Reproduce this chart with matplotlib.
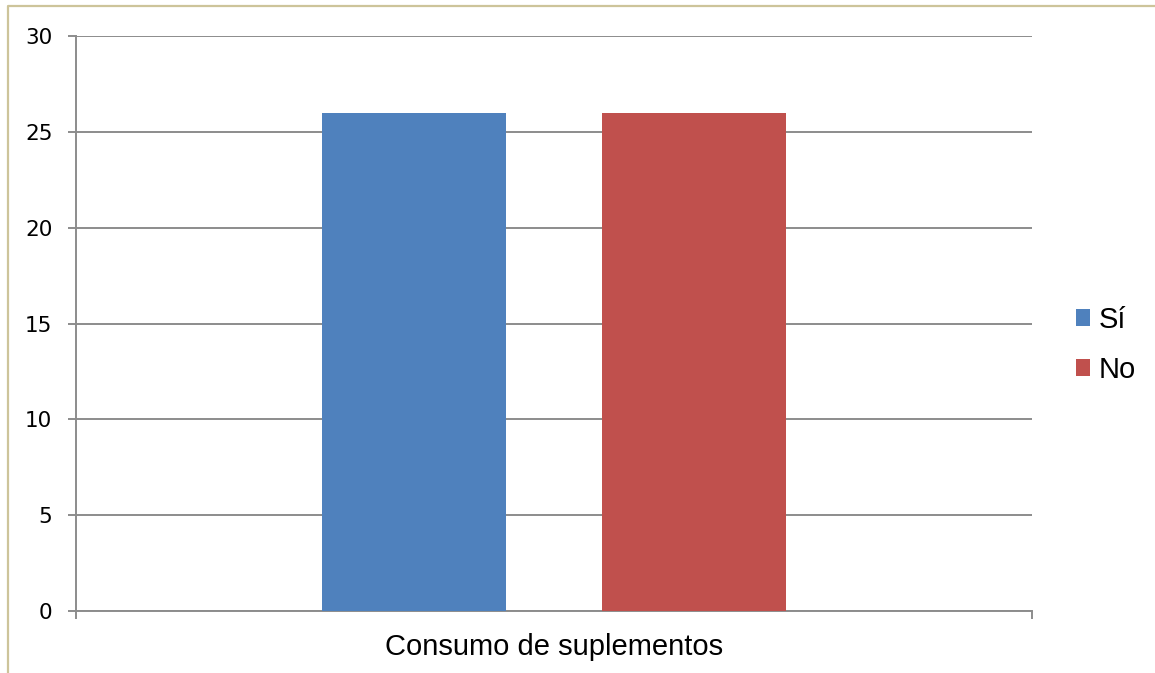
import matplotlib
matplotlib.use('Agg')
import matplotlib.pyplot as plt
from matplotlib.lines import Line2D
import numpy as np

categories = ["Consumo de suplementos"]
series = ["Sí", "No"]
values = [[26], [26]]
colors = ["#4f81bd", "#c0504d"]
yticks = [0, 5, 10, 15, 20, 25, 30]

grid_c = "#8c8c8c"
fig = plt.figure(figsize=(11.55, 6.73), dpi=100)
ax = fig.add_axes([76 / 1155, 62 / 673, 956 / 1155, 575 / 673])

x = np.arange(len(categories))
width = 0.193
offsets = [-0.1465, 0.1465]
for name, vals, off, c in zip(series, values, offsets, colors):
    ax.bar(x + off, vals, width, color=c, label=name, zorder=3)

ax.set_xlim(-0.5, len(categories) - 0.5)
ax.set_ylim(0, 30)
ax.set_yticks(yticks)
ax.set_yticklabels([str(t) for t in yticks], fontsize=15.5, family="DejaVu Sans")
ax.yaxis.grid(True, color=grid_c, lw=1.4, zorder=0)
ax.tick_params(axis="y", length=6, width=1.4, color=grid_c, pad=11)

# category boundaries as major ticks, category name as an unticked minor label
ax.set_xticks(np.arange(len(categories) + 1) - 0.5)
ax.set_xticklabels([])
ax.tick_params(axis="x", which="major", length=6, width=1.4, color=grid_c)
ax.set_xticks(x, minor=True)
ax.set_xticklabels(categories, minor=True, fontsize=21, family="Liberation Sans")
ax.tick_params(axis="x", which="minor", length=0, pad=16)

for s in ["top", "right"]:
    ax.spines[s].set_visible(False)
for s in ["left", "bottom"]:
    ax.spines[s].set_color(grid_c)
    ax.spines[s].set_linewidth(1.4)

ax.legend(loc="center left", bbox_to_anchor=(1061 / 1155, 1 - 345 / 673),
          bbox_transform=fig.transFigure, frameon=False,
          prop={"family": "Liberation Sans", "size": 21},
          handlelength=0.5, handleheight=0.5, handletextpad=0.3,
          labelspacing=0.75, borderpad=0)

# outer chart frame (left and top edges)
frame_c = "#cdc49a"
fig.add_artist(Line2D([8 / 1155, 8 / 1155, 1], [0, 1 - 6 / 673, 1 - 6 / 673],
                      transform=fig.transFigure, color=frame_c, lw=1.6))

fig.savefig("out.png", dpi=100)
